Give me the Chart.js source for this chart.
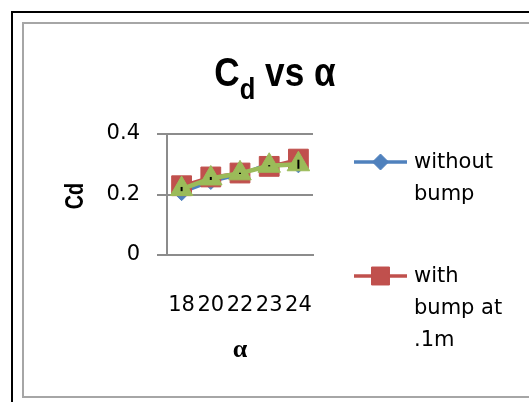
<!DOCTYPE html>
<html>
<head>
<meta charset="utf-8">
<script src="https://cdn.jsdelivr.net/npm/chart.js@4.4.1/dist/chart.umd.min.js"></script>
<style>
  html, body { margin: 0; padding: 0; background: #fff; overflow: hidden; width: 529px; height: 402px; }
  #outer { position: absolute; left: 11px; top: 11px; width: 600px; height: 500px; border-top: 2px solid #000; border-left: 2px solid #000; }
  #frame { position: absolute; left: 22px; top: 22px; width: 600px; height: 372px; border: 2px solid #a6a6a6; }
  canvas { position: absolute; left: 0; top: 0; }
</style>
</head>
<body>
<div id="outer"></div>
<div id="frame"></div>
<canvas id="chart" width="529" height="402"></canvas>
<script>
// Angle of attack categories and drag coefficient series
const alphaLabels = ['18', '20', '22', '23', '24'];
const cdWithoutBump = [0.206, 0.243, 0.265, 0.304, 0.298];
const cdWithBump = [0.229, 0.258, 0.271, 0.293, 0.317];
const cdThird = [0.218, 0.253, 0.270, 0.295, 0.300];
const cdThirdErr = [0.007, 0.005, 0.002, 0.002, 0.015];
const yTickValues = [0, 0.2, 0.4];

const BLUE = '#4F81BD', RED = '#C0504D', GREEN = '#9BBB59', GRID = '#8c8c8c';

// Draws text squeezed horizontally (narrow bold face)
function narrowText(ctx, parts, x, y, sx, align) {
  ctx.save();
  let total = 0;
  for (const p of parts) {
    ctx.font = 'bold ' + p.size + 'px "Liberation Sans", Arial, sans-serif';
    p.w = ctx.measureText(p.t).width;
    total += p.w;
  }
  ctx.translate(x, y);
  ctx.scale(sx, 1);
  let cx = align === 'center' ? -total / 2 : 0;
  ctx.textBaseline = 'alphabetic';
  ctx.textAlign = 'left';
  ctx.fillStyle = '#000';
  for (const p of parts) {
    ctx.font = 'bold ' + p.size + 'px "Liberation Sans", Arial, sans-serif';
    ctx.fillText(p.t, cx, p.dy || 0);
    cx += p.w;
  }
  ctx.restore();
}

const titlesPlugin = {
  id: 'titles',
  afterDraw(chart) {
    const ctx = chart.ctx;
    // Chart title: C_d vs α
    narrowText(ctx, [
      { t: 'C', size: 40 },
      { t: 'd', size: 29, dy: 13 },
      { t: ' vs α', size: 40 }
    ], 275, 86, 0.88, 'center');
    // Vertical axis title
    ctx.save();
    ctx.translate(83, 196);
    ctx.rotate(-Math.PI / 2);
    narrowText(ctx, [{ t: 'Cd', size: 26 }], 0, 0, 0.76, 'center');
    ctx.restore();
  }
};

// Vertical error bars for datasets that carry an errorBars array
const errorBarPlugin = {
  id: 'errorBars',
  afterDatasetsDraw(chart) {
    const ctx = chart.ctx;
    const y = chart.scales.y;
    chart.data.datasets.forEach((ds, i) => {
      if (!ds.errorBars) return;
      const meta = chart.getDatasetMeta(i);
      ctx.save();
      ctx.strokeStyle = '#000';
      ctx.lineWidth = 2;
      meta.data.forEach((pt, j) => {
        const v = ds.data[j], e = ds.errorBars[j];
        ctx.beginPath();
        ctx.moveTo(pt.x, y.getPixelForValue(v + e));
        ctx.lineTo(pt.x, y.getPixelForValue(v - e));
        ctx.stroke();
      });
      ctx.restore();
    });
  }
};

// Legend at the right with wrapped labels
const sideLegendPlugin = {
  id: 'sideLegend',
  afterDraw(chart) {
    const ctx = chart.ctx;
    const font = '21px "DejaVu Sans", sans-serif';
    const maxW = 100, lineH = 32;
    const entryY = [162, 276];
    let k = 0;
    chart.data.datasets.forEach((ds) => {
      if (!ds.label) return;
      const y0 = entryY[k++];
      ctx.save();
      ctx.strokeStyle = ds.borderColor;
      ctx.lineWidth = 3.5;
      ctx.beginPath();
      ctx.moveTo(354, y0);
      ctx.lineTo(407, y0);
      ctx.stroke();
      ctx.fillStyle = ds.backgroundColor;
      ctx.strokeStyle = ds.borderColor;
      ctx.lineWidth = 1;
      Chart.helpers.drawPoint(ctx, { pointStyle: ds.pointStyle, radius: ds.legendRadius, rotation: 0, borderWidth: 1 }, 380.5, y0);
      // wrap label
      ctx.font = font;
      const words = ds.label.split(' ');
      const lines = [];
      let cur = '';
      for (const w of words) {
        const test = cur ? cur + ' ' + w : w;
        if (cur && ctx.measureText(test).width > maxW) { lines.push(cur); cur = w; }
        else cur = test;
      }
      if (cur) lines.push(cur);
      ctx.fillStyle = '#000';
      ctx.textAlign = 'left';
      ctx.textBaseline = 'middle';
      lines.forEach((ln, i) => ctx.fillText(ln, 414, y0 + 1 + i * lineH));
      ctx.restore();
    });
  }
};

new Chart(document.getElementById('chart'), {
  type: 'line',
  data: {
    labels: alphaLabels,
    datasets: [
      {
        label: 'without bump', data: cdWithoutBump,
        borderColor: BLUE, backgroundColor: BLUE, borderWidth: 3,
        pointStyle: 'rectRot', pointRadius: 8, legendRadius: 8,
        pointBorderColor: BLUE, pointBackgroundColor: BLUE, pointBorderWidth: 1, order: 3
      },
      {
        label: 'with bump at .1m', data: cdWithBump,
        borderColor: RED, backgroundColor: RED, borderWidth: 3,
        pointStyle: 'rect', pointRadius: 14, legendRadius: 12.7,
        pointBorderColor: RED, pointBackgroundColor: RED, pointBorderWidth: 1, order: 2
      },
      {
        label: '', data: cdThird, errorBars: cdThirdErr,
        borderColor: GREEN, backgroundColor: GREEN, borderWidth: 4.5,
        pointStyle: 'triangle', pointRadius: 13,
        pointBorderColor: GREEN, pointBackgroundColor: GREEN, pointBorderWidth: 1, order: 1
      }
    ]
  },
  options: {
    responsive: false,
    animation: false,
    devicePixelRatio: 1,
    layout: { padding: { left: 0, top: 134, right: 216, bottom: 36 } },
    elements: { line: { tension: 0 } },
    plugins: {
      legend: { display: false },
      title: { display: false },
      tooltip: { enabled: false }
    },
    scales: {
      x: {
        offset: true,
        grid: { display: false },
        border: { display: true, color: GRID, width: 2 },
        ticks: {
          color: '#000', padding: 30, autoSkip: false, maxRotation: 0, minRotation: 0,
          font: { family: '"DejaVu Sans", sans-serif', size: 21 }
        },
        title: {
          display: true, text: 'α', color: '#000', padding: 0,
          font: { family: '"Liberation Serif", serif', size: 26, weight: 'bold' }
        },
        afterFit: (s) => { s.height = 111; }
      },
      y: {
        min: 0, max: 0.4,
        afterBuildTicks: (s) => { s.ticks = yTickValues.map(v => ({ value: v })); },
        grid: { color: GRID, lineWidth: 2, tickLength: 10 },
        border: { display: true, color: GRID, width: 2 },
        ticks: {
          color: '#000', padding: 17,
          font: { family: '"DejaVu Sans", sans-serif', size: 21 },
          callback: (v) => String(v)
        },
        afterFit: (s) => { s.width = 167; }
      }
    }
  },
  plugins: [errorBarPlugin, titlesPlugin, sideLegendPlugin]
});
</script>
</body>
</html>
